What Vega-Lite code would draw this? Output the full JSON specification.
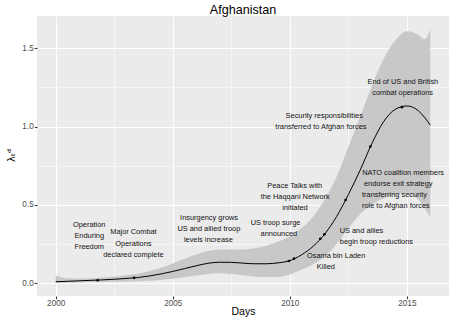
{
  "$schema": "https://vega.github.io/schema/vega-lite/v6.json",
  "width": 412,
  "height": 280,
  "autosize": {"type": "none"},
  "padding": {"left": 37, "top": 16, "right": 3, "bottom": 24},
  "background": "white",
  "config": {"font": "Liberation Sans", "view": {"fill": "#EBEBEB", "stroke": null}},
  "title": {"text": "Afghanistan", "fontSize": 12.6, "fontWeight": "normal", "color": "black", "anchor": "middle", "frame": "group", "baseline": "alphabetic", "offset": 5, "dy": 16},
  "datasets": {
    "curve": [
      {"year": 2000.0, "mean": 0.008, "lower": 0.000, "upper": 0.046},
      {"year": 2000.5, "mean": 0.011, "lower": 0.002, "upper": 0.030},
      {"year": 2001.0, "mean": 0.014, "lower": 0.004, "upper": 0.027},
      {"year": 2001.5, "mean": 0.017, "lower": 0.006, "upper": 0.030},
      {"year": 2002.0, "mean": 0.020, "lower": 0.007, "upper": 0.035},
      {"year": 2002.5, "mean": 0.024, "lower": 0.008, "upper": 0.042},
      {"year": 2003.0, "mean": 0.029, "lower": 0.010, "upper": 0.050},
      {"year": 2003.5, "mean": 0.035, "lower": 0.012, "upper": 0.060},
      {"year": 2004.0, "mean": 0.045, "lower": 0.015, "upper": 0.075},
      {"year": 2004.5, "mean": 0.058, "lower": 0.020, "upper": 0.097},
      {"year": 2005.0, "mean": 0.074, "lower": 0.027, "upper": 0.125},
      {"year": 2005.5, "mean": 0.092, "lower": 0.037, "upper": 0.155},
      {"year": 2006.0, "mean": 0.110, "lower": 0.048, "upper": 0.182},
      {"year": 2006.5, "mean": 0.126, "lower": 0.058, "upper": 0.205},
      {"year": 2007.0, "mean": 0.133, "lower": 0.062, "upper": 0.215},
      {"year": 2007.5, "mean": 0.132, "lower": 0.058, "upper": 0.215},
      {"year": 2008.0, "mean": 0.127, "lower": 0.050, "upper": 0.215},
      {"year": 2008.5, "mean": 0.123, "lower": 0.042, "upper": 0.222},
      {"year": 2009.0, "mean": 0.123, "lower": 0.038, "upper": 0.238},
      {"year": 2009.5, "mean": 0.129, "lower": 0.040, "upper": 0.265},
      {"year": 2010.0, "mean": 0.143, "lower": 0.055, "upper": 0.298},
      {"year": 2010.5, "mean": 0.180, "lower": 0.085, "upper": 0.350},
      {"year": 2011.0, "mean": 0.235, "lower": 0.120, "upper": 0.425},
      {"year": 2011.5, "mean": 0.315, "lower": 0.170, "upper": 0.535},
      {"year": 2012.0, "mean": 0.425, "lower": 0.250, "upper": 0.680},
      {"year": 2012.5, "mean": 0.565, "lower": 0.350, "upper": 0.870},
      {"year": 2013.0, "mean": 0.720, "lower": 0.440, "upper": 1.060},
      {"year": 2013.5, "mean": 0.890, "lower": 0.500, "upper": 1.260},
      {"year": 2014.0, "mean": 1.030, "lower": 0.540, "upper": 1.430},
      {"year": 2014.5, "mean": 1.110, "lower": 0.565, "upper": 1.550},
      {"year": 2015.0, "mean": 1.132, "lower": 0.570, "upper": 1.610},
      {"year": 2015.5, "mean": 1.100, "lower": 0.530, "upper": 1.585},
      {"year": 2015.75, "mean": 1.060, "lower": 0.480, "upper": 1.558},
      {"year": 2016.0, "mean": 1.010, "lower": 0.420, "upper": 1.620}
    ],
    "events": [
      {"year": 2001.79, "value": 0.018},
      {"year": 2003.35, "value": 0.033},
      {"year": 2009.96, "value": 0.141},
      {"year": 2010.18, "value": 0.156},
      {"year": 2011.30, "value": 0.283},
      {"year": 2011.48, "value": 0.311},
      {"year": 2012.38, "value": 0.531},
      {"year": 2013.44, "value": 0.872},
      {"year": 2014.79, "value": 1.124}
    ],
    "labels": [
      {"year": 2001.43, "value": 0.368, "label": "Operation"},
      {"year": 2001.43, "value": 0.299, "label": "Enduring"},
      {"year": 2001.43, "value": 0.232, "label": "Freedom"},
      {"year": 2003.32, "value": 0.323, "label": "Major Combat"},
      {"year": 2003.32, "value": 0.249, "label": "Operations"},
      {"year": 2003.32, "value": 0.177, "label": "declared complete"},
      {"year": 2006.55, "value": 0.416, "label": "Insurgency grows"},
      {"year": 2006.54, "value": 0.345, "label": "US and allied troop"},
      {"year": 2006.52, "value": 0.277, "label": "levels increase"},
      {"year": 2009.39, "value": 0.382, "label": "US troop surge"},
      {"year": 2009.53, "value": 0.314, "label": "announced"},
      {"year": 2010.21, "value": 0.622, "label": "Peace Talks with"},
      {"year": 2010.23, "value": 0.550, "label": "the Haqqani Network"},
      {"year": 2010.22, "value": 0.482, "label": "initiated"},
      {"year": 2011.98, "value": 0.170, "label": "Osama bin Laden"},
      {"year": 2011.54, "value": 0.101, "label": "Killed"},
      {"year": 2013.06, "value": 0.330, "label": "US and allies"},
      {"year": 2013.70, "value": 0.262, "label": "begin troop reductions"},
      {"year": 2014.84, "value": 0.702, "label": "NATO coalition members"},
      {"year": 2014.63, "value": 0.632, "label": "endorse exit strategy"},
      {"year": 2014.47, "value": 0.560, "label": "transferring security"},
      {"year": 2014.53, "value": 0.491, "label": "role to Afghan forces"},
      {"year": 2011.47, "value": 1.067, "label": "Security responsibilities"},
      {"year": 2011.33, "value": 0.999, "label": "transferred to Afghan forces"},
      {"year": 2014.83, "value": 1.283, "label": "End of US and British"},
      {"year": 2014.82, "value": 1.215, "label": "combat operations"}
    ]
  },
  "layer": [
    {
      "data": {"name": "curve"},
      "mark": {"type": "area", "color": "#C8C8C8", "opacity": 1, "interpolate": "monotone"},
      "encoding": {
        "x": {
          "field": "year", "type": "quantitative",
          "scale": {"domain": [1999.2, 2016.8], "nice": false, "zero": false},
          "axis": {
            "title": "Days",
            "values": [2000, 2002.5, 2005, 2007.5, 2010, 2012.5, 2015],
            "labelExpr": "datum.value % 5 === 0 ? format(datum.value, 'd') : ''",
            "domain": false,
            "grid": true,
            "gridColor": "white",
            "gridWidth": {"condition": {"test": "datum.value % 5 === 0", "value": 1.07}, "value": 0.53},
            "ticks": true,
            "tickSize": 2.75,
            "tickColor": "#333333",
            "tickWidth": 1.07,
            "tickOpacity": {"condition": {"test": "datum.value % 5 === 0", "value": 1}, "value": 0},
            "labelFontSize": 8.2,
            "labelColor": "#4D4D4D",
            "labelPadding": 0.8,
            "labelFlush": false,
            "labelBound": false,
            "labelOverlap": false,
            "titleFontSize": 10.5,
            "titleFontWeight": "normal",
            "titleColor": "black",
            "titleBaseline": "alphabetic",
            "titleY": 18.3
          }
        },
        "y": {
          "field": "lower", "type": "quantitative",
          "scale": {"domain": [-0.083, 1.707], "nice": false, "zero": false},
          "axis": {
            "title": "λₜᵈ",
            "values": [0, 0.25, 0.5, 0.75, 1, 1.25, 1.5],
            "labelExpr": "(datum.value * 2) % 1 === 0 ? format(datum.value, '.1f') : ''",
            "domain": false,
            "grid": true,
            "gridColor": "white",
            "gridWidth": {"condition": {"test": "(datum.value * 2) % 1 === 0", "value": 1.07}, "value": 0.53},
            "ticks": true,
            "tickSize": 2.75,
            "tickColor": "#333333",
            "tickWidth": 1.07,
            "tickOpacity": {"condition": {"test": "(datum.value * 2) % 1 === 0", "value": 1}, "value": 0},
            "labelFontSize": 8.2,
            "labelColor": "#4D4D4D",
            "labelPadding": 1,
            "labelOverlap": false,
            "labelBound": false,
            "labelFlush": false,
            "titleFont": "DejaVu Sans",
            "titleFontSize": 10,
            "titleFontWeight": "normal",
            "titleColor": "black",
            "titleAngle": -90,
            "titleAlign": "center",
            "titleBaseline": "middle",
            "titleX": -25.3,
            "titleY": 139
          }
        },
        "y2": {"field": "upper"}
      }
    },
    {
      "data": {"name": "curve"},
      "mark": {"type": "line", "color": "black", "strokeWidth": 1, "interpolate": "monotone"},
      "encoding": {
        "x": {"field": "year", "type": "quantitative", "title": "Days", "scale": {"domain": [1999.2, 2016.8], "nice": false, "zero": false}},
        "y": {"field": "mean", "type": "quantitative", "title": "λₜᵈ", "scale": {"domain": [-0.083, 1.707], "nice": false, "zero": false}}
      }
    },
    {
      "data": {"name": "events"},
      "mark": {"type": "point", "filled": true, "color": "black", "opacity": 1, "size": 7},
      "encoding": {
        "x": {"field": "year", "type": "quantitative", "title": "Days", "scale": {"domain": [1999.2, 2016.8], "nice": false, "zero": false}},
        "y": {"field": "value", "type": "quantitative", "title": "λₜᵈ", "scale": {"domain": [-0.083, 1.707], "nice": false, "zero": false}}
      }
    },
    {
      "data": {"name": "labels"},
      "mark": {"type": "text", "fontSize": 7.4, "align": "center", "baseline": "middle", "color": "#111111"},
      "encoding": {
        "x": {"field": "year", "type": "quantitative", "title": "Days", "scale": {"domain": [1999.2, 2016.8], "nice": false, "zero": false}},
        "y": {"field": "value", "type": "quantitative", "title": "λₜᵈ", "scale": {"domain": [-0.083, 1.707], "nice": false, "zero": false}},
        "text": {"field": "label"}
      }
    }
  ]
}
